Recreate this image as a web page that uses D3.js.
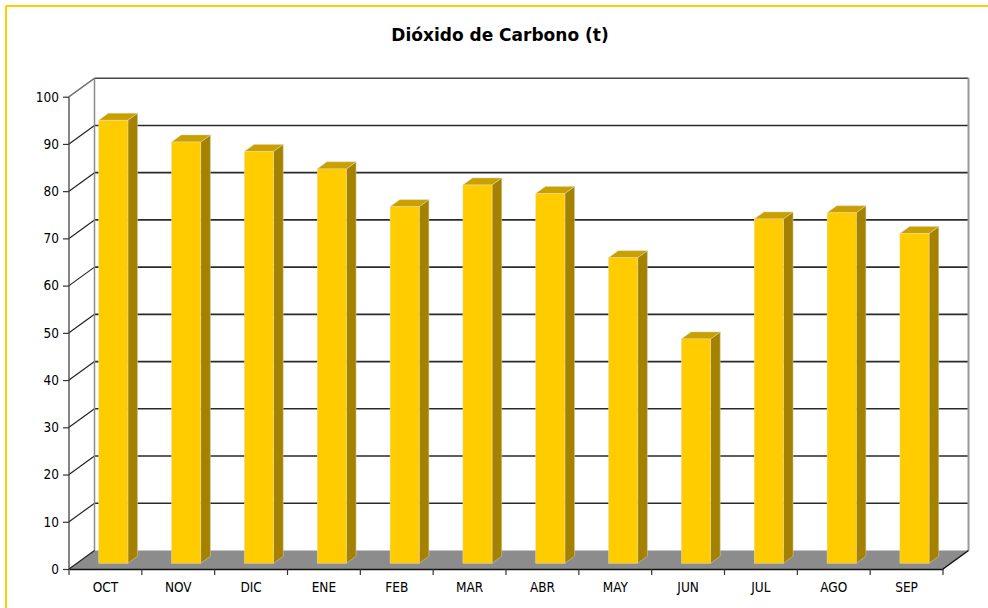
<!DOCTYPE html>
<html>
<head>
<meta charset="utf-8">
<script src="https://cdn.jsdelivr.net/npm/d3@7"></script>
<style>
  html, body { margin: 0; padding: 0; background: #ffffff; }
  svg { display: block; }
  .lbl { font-family: "DejaVu Sans Condensed", "DejaVu Sans", sans-serif; font-stretch: condensed; font-size: 13.5px; fill: #000; }
</style>
</head>
<body>
<svg id="chart" width="988" height="608"></svg>
<script>
// Monthly CO2 emissions (tonnes)
const categories = ["OCT", "NOV", "DIC", "ENE", "FEB", "MAR", "ABR", "MAY", "JUN", "JUL", "AGO", "SEP"];
const values = [93.8, 89.2, 87.2, 83.5, 75.5, 80.1, 78.3, 64.7, 47.5, 72.9, 74.2, 69.8];
const yTicks = [0, 10, 20, 30, 40, 50, 60, 70, 80, 90, 100];
const title = "Dióxido de Carbono (t)";

const svg = d3.select("#chart");

// Front plane of the 3-D box and its depth offset
const pLeft = 69, pRight = 943, pBottom = 569, pTop = 96.7;
const DX = 25.5, DY = 18.5;

const y = d3.scaleLinear().domain([0, 100]).range([pBottom, pTop]);
const x = d3.scaleBand().domain(categories).range([pLeft, pRight])
  .paddingInner(0.6).paddingOuter(0.3);
const step = x.step();

// Chart frame
svg.append("line").attr("x1", 6).attr("y1", 6).attr("x2", 988).attr("y2", 6)
  .attr("stroke", "#FFCC00").attr("stroke-width", 2);
svg.append("line").attr("x1", 6).attr("y1", 6).attr("x2", 6).attr("y2", 608)
  .attr("stroke", "#FFCC00").attr("stroke-width", 2);

// Title
svg.append("text")
  .attr("x", 500).attr("y", 41)
  .attr("text-anchor", "middle")
  .style("font-family", "\"DejaVu Sans\", sans-serif")
  .style("font-weight", "bold")
  .style("font-size", "17px")
  .text(title);

// Back wall gridlines
const grid = svg.append("g");
grid.selectAll("line.h").data(yTicks.filter(d => d > 0)).join("line")
  .attr("x1", pLeft + DX).attr("x2", pRight + DX)
  .attr("y1", d => y(d) - DY).attr("y2", d => y(d) - DY)
  .attr("stroke", d => d === 100 ? "#444" : "#2a2a2a").attr("stroke-width", 1.6);

// Side wall gridlines (diagonals)
grid.selectAll("line.d").data(yTicks.filter(d => d > 0)).join("line")
  .attr("x1", pLeft).attr("x2", pLeft + DX)
  .attr("y1", d => y(d)).attr("y2", d => y(d) - DY)
  .attr("stroke", d => d === 100 ? "#777" : "#222").attr("stroke-width", 1.2);

// Back wall vertical edges
svg.append("line").attr("x1", pLeft + DX).attr("x2", pLeft + DX)
  .attr("y1", y(100) - DY).attr("y2", y(0) - DY)
  .attr("stroke", "#8a8a8a").attr("stroke-width", 1.5);
svg.append("line").attr("x1", pRight + DX).attr("x2", pRight + DX)
  .attr("y1", y(100) - DY).attr("y2", y(0) - DY)
  .attr("stroke", "#999").attr("stroke-width", 2);

// Floor
svg.append("polygon")
  .attr("points", [[pLeft, y(0)], [pRight, y(0)], [pRight + DX, y(0) - DY], [pLeft + DX, y(0) - DY]].map(p => p.join(",")).join(" "))
  .attr("fill", "#8C8C8C");
svg.append("line").attr("x1", pLeft).attr("y1", y(0)).attr("x2", pLeft + DX).attr("y2", y(0) - DY)
  .attr("stroke", "#222").attr("stroke-width", 1.2);
svg.append("line").attr("x1", pRight).attr("y1", y(0)).attr("x2", pRight + DX).attr("y2", y(0) - DY)
  .attr("stroke", "#111").attr("stroke-width", 1.5);

// Bars (front face, top, right side)
const d0 = 0.31, dDepth = 0.38;
const bdx = DX * dDepth, bdy = DY * dDepth;
const w = x.bandwidth();
const bars = svg.append("g").selectAll("g").data(categories.map((c, i) => ({ c, v: values[i] }))).join("g");
bars.each(function (d) {
  const g = d3.select(this);
  const x0 = x(d.c) + d0 * DX;
  const yb = y(0) - d0 * DY;
  const yt = y(d.v) - d0 * DY;
  g.append("polygon")
    .attr("points", [[x0 + w, yt], [x0 + w + bdx, yt - bdy], [x0 + w + bdx, yb - bdy], [x0 + w, yb]].map(p => p.join(",")).join(" "))
    .attr("fill", "#A48200").attr("stroke", "#d8d2b8").attr("stroke-width", 0.5);
  g.append("polygon")
    .attr("points", [[x0, yt], [x0 + w, yt], [x0 + w + bdx, yt - bdy], [x0 + bdx, yt - bdy]].map(p => p.join(",")).join(" "))
    .attr("fill", "#C9A000").attr("stroke", "#d8d2b8").attr("stroke-width", 0.5);
  g.append("rect")
    .attr("x", x0).attr("y", yt).attr("width", w).attr("height", yb - yt)
    .attr("fill", "#FFCC00").attr("stroke", "#e6dcb0").attr("stroke-width", 0.5);
});

// Y axis
const yAxis = svg.append("g").attr("transform", `translate(${pLeft},0)`)
  .call(d3.axisLeft(y).tickValues(yTicks).tickSize(6).tickPadding(4).tickSizeOuter(0));
yAxis.select(".domain").attr("stroke", "#333").attr("stroke-width", 1.2);
yAxis.selectAll(".tick line").attr("stroke", "#333").attr("stroke-width", 1.2);
yAxis.selectAll("text").attr("class", "lbl");
yAxis.attr("font-family", null).attr("font-size", null);
yAxis.select(".domain").attr("d", `M0,${y(100)}V${y(0)}`);

// Top diagonal of side wall
svg.append("line").attr("x1", pLeft).attr("y1", y(100)).attr("x2", pLeft + DX).attr("y2", y(100) - DY)
  .attr("stroke", "#777").attr("stroke-width", 1.2);

// X axis: labels centred in each category, ticks on boundaries
const xAxis = svg.append("g").attr("transform", `translate(0,${pBottom})`)
  .call(d3.axisBottom(d3.scaleBand().domain(categories).range([pLeft, pRight])).tickSize(0).tickPadding(13));
xAxis.select(".domain").attr("stroke", "#111").attr("stroke-width", 1.5);
xAxis.selectAll("text").attr("class", "lbl");
xAxis.attr("font-family", null).attr("font-size", null);
svg.append("g").selectAll("line").data(d3.range(categories.length + 1)).join("line")
  .attr("x1", i => pLeft + i * step).attr("x2", i => pLeft + i * step)
  .attr("y1", pBottom).attr("y2", pBottom + 6)
  .attr("stroke", "#333").attr("stroke-width", 1.2);
</script>
</body>
</html>
